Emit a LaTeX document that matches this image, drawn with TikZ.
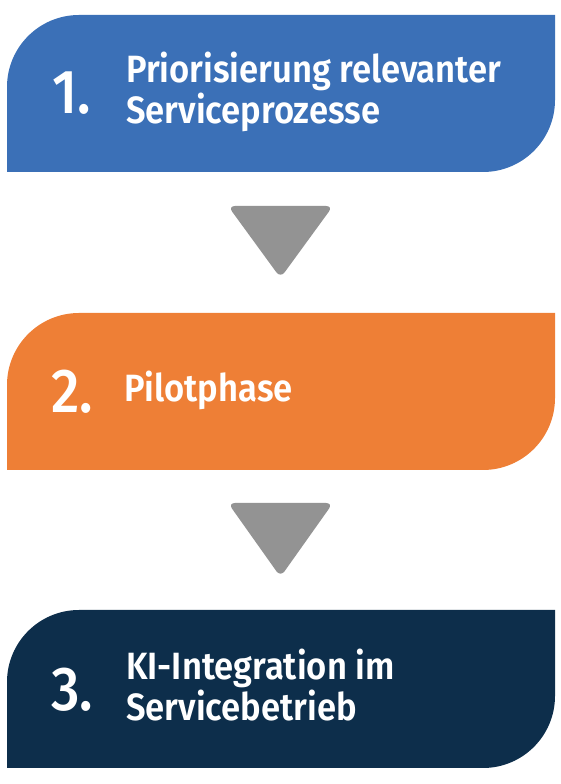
\documentclass[tikz,border=0pt]{standalone}
\usepackage{fontspec}
\setmainfont{Fira Sans}[BoldFont={Fira Sans SemiBold}]
\newfontfamily\condfont{Fira Sans SemiBold}[FakeStretch=0.91]
\newfontfamily\numfont{Fira Sans Medium}[FakeStretch=0.9]
\definecolor{cblue}{HTML}{3B70B7}
\definecolor{corange}{HTML}{EE7F36}
\definecolor{cnavy}{HTML}{0D2E4B}
\definecolor{cgray}{HTML}{939393}
\begin{document}
\begin{tikzpicture}[x=1pt,y=1pt,
  numtxt/.style={anchor=base west,inner sep=0pt,text=white,font=\numfont\fontsize{62}{62}\selectfont},
  lbltxt/.style={anchor=base west,inner sep=0pt,text=white,font=\condfont\fontsize{38}{41}\selectfont},
  arrowtri/.style={fill=cgray,rounded corners=7pt}]
\useasboundingbox (0,0) rectangle (561,784);
% boxes
\fill[cblue] (7,612) -- (7,697) arc[start angle=180,end angle=90,radius=72] -- (555,769) -- (555,684) arc[start angle=0,end angle=-90,radius=72] -- cycle;
\fill[corange] (7,314) -- (7,399) arc[start angle=180,end angle=90,radius=72] -- (555,471) -- (555,386) arc[start angle=0,end angle=-90,radius=72] -- cycle;
\fill[cnavy] (7,16) -- (7,102) arc[start angle=180,end angle=90,radius=72] -- (555,174) -- (555,88) arc[start angle=0,end angle=-90,radius=72] -- cycle;
% arrows
\fill[arrowtri] (228,578) -- (333,578) -- (280.5,506) -- cycle;
\fill[arrowtri] (228,281) -- (333,281) -- (280.5,207) -- cycle;
% texts
\node[numtxt] (n1) at (52,670) {1.};
\node[lbltxt] (t1a) at (126,701) {Priorisierung relevanter};
\node[lbltxt] (t1b) at (126,660) {Serviceprozesse};
\node[numtxt] (n2) at (51,371) {2.};
\node[lbltxt] (t2) at (124,382) {Pilotphase};
\node[numtxt] (n3) at (51,73) {3.};
\node[lbltxt] (t3a) at (126,104) {KI-Integration im};
\node[lbltxt] (t3b) at (126,63) {Servicebetrieb};
\end{tikzpicture}
\end{document}
